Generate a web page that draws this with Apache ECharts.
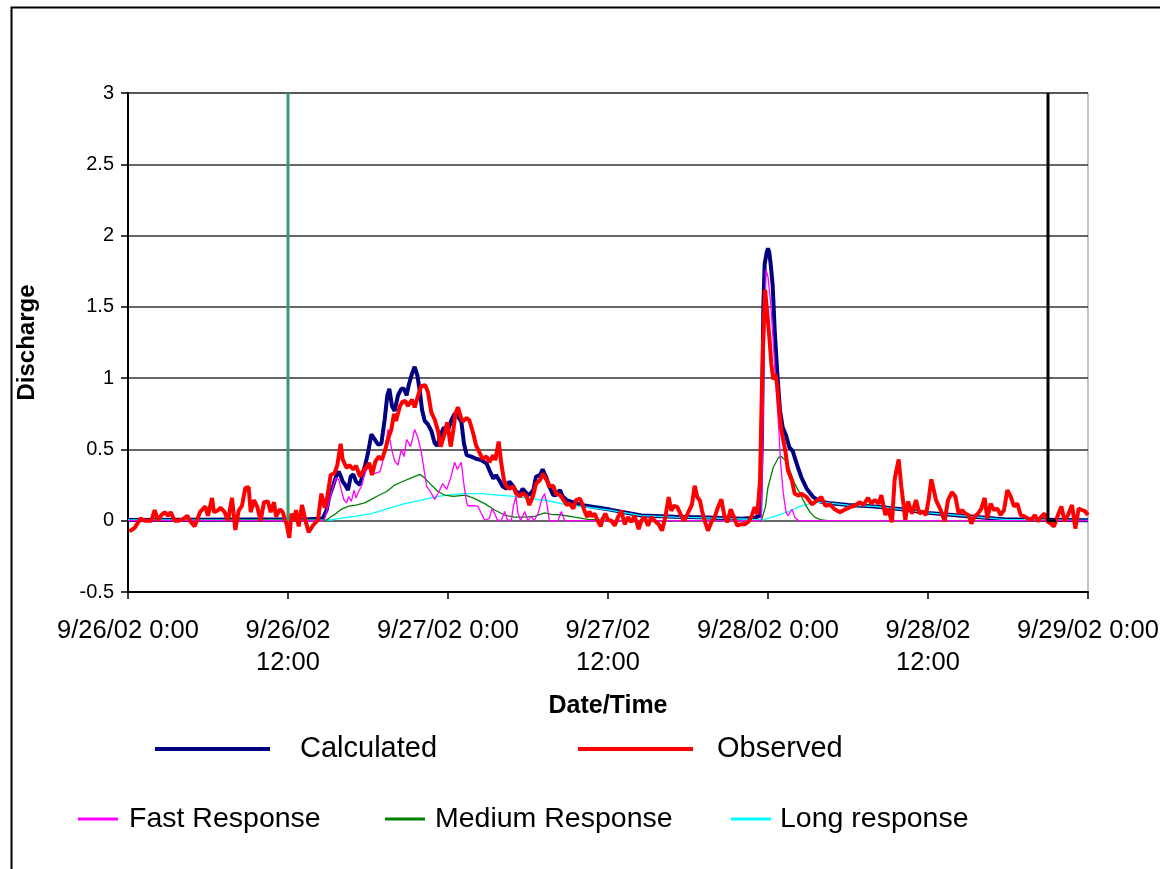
<!DOCTYPE html>
<html><head><meta charset="utf-8">
<script src="https://cdn.jsdelivr.net/npm/echarts@6.0.0/dist/echarts.min.js"></script>
<style>html,body{margin:0;padding:0;background:#fff}#c{width:1160px;height:869px}</style>
</head><body><div id="c"></div><script>
// x values are hours since 9/26/02 0:00
const tickLabels = ['9/26/02 0:00','9/26/02\n12:00','9/27/02 0:00','9/27/02\n12:00','9/28/02 0:00','9/28/02\n12:00','9/29/02 0:00'];
const seriesNames = ['Calculated','Observed','Fast Response','Medium Response','Long response'];
const markerStart = [[12,3],[12,0]];
const markerEnd = [[69,3],[69,0],[69.6,0]];

const observed = [[0.1,-0.075],[0.5,-0.05],[0.95,0.016],[1.25,0],[1.75,0],[2.0,0.075],[2.25,0],[2.5,0.04],[2.75,0.06],[3.0,0.035],[3.2,0.06],[3.5,0],[3.75,0],[4.1,0.01],[4.45,0.035],[4.7,-0.007],[5.0,-0.04],[5.4,0.06],[5.8,0.1],[6.0,0.035],[6.3,0.16],[6.45,0.06],[6.7,0.07],[6.95,0.09],[7.25,0.06],[7.5,0],[7.8,0.16],[8.05,-0.065],[8.3,0.07],[8.55,0.105],[8.8,0.23],[9.05,0.235],[9.2,0.06],[9.45,0.145],[9.7,0.095],[9.95,0],[10.2,0.13],[10.5,0.135],[10.7,0.06],[10.95,0.13],[11.1,0.03],[11.4,0.08],[11.6,0.06],[11.9,-0.025],[12.1,-0.12],
[12.25,0.05],[12.45,0],[12.6,0.075],[12.8,-0.04],[13.05,0.11],[13.3,0.005],[13.55,-0.08],[13.9,-0.03],[14.25,0.005],[14.5,0.19],[14.75,0.09],[14.95,0.17],[15.2,0.32],[15.5,0.335],[15.7,0.39],[15.95,0.54],[16.1,0.43],[16.4,0.37],[16.6,0.39],[16.9,0.36],[17.1,0.385],[17.4,0.31],[17.6,0.345],[17.9,0.38],[18.1,0.405],[18.3,0.32],[18.55,0.415],[18.8,0.45],[19.05,0.43],[19.3,0.5],[19.5,0.575],[19.75,0.64],[19.95,0.75],[20.1,0.70],[20.4,0.805],[20.6,0.835],[20.8,0.84],[21.0,0.805],[21.3,0.85],[21.5,0.795],[21.75,0.875],[22.0,0.945],[22.3,0.95],[22.5,0.9],[22.75,0.76],[23.0,0.71],[23.25,0.63],[23.45,0.52],[23.7,0.595],[23.95,0.69],
[24.2,0.52],[24.4,0.635],[24.55,0.75],[24.75,0.795],[24.95,0.73],[25.1,0.695],[25.4,0.72],[25.6,0.705],[25.9,0.61],[26.1,0.53],[26.4,0.47],[26.6,0.435],[26.9,0.45],[27.1,0.41],[27.4,0.46],[27.55,0.425],[27.8,0.555],[28.0,0.4],[28.2,0.285],[28.4,0.24],[28.6,0.225],[28.9,0.24],[29.1,0.19],[29.4,0.17],[29.6,0.195],[29.9,0.17],[30.1,0.11],[30.4,0.18],[30.6,0.26],[30.9,0.285],[31.1,0.33],[31.4,0.285],[31.6,0.24],[31.9,0.245],[32.1,0.19],[32.4,0.18],[32.6,0.155],[32.9,0.11],[33.1,0.12],[33.4,0.085],[33.6,0.145],[33.9,0.155],[34.1,0.11],[34.25,0.065],[34.45,0.025],[34.6,0.065],[34.8,0.03],[35.0,0.05],[35.2,0.005],[35.45,-0.04],[35.6,0.015],[35.8,0.05],[36.0,0.005],
[36.25,0],[36.5,-0.035],[36.75,0.025],[37.0,0.07],[37.25,-0.025],[37.5,0.025],[37.75,-0.01],[38.0,0.035],[38.3,-0.06],[38.5,0],[38.75,0.025],[39.0,-0.035],[39.25,0.025],[39.5,0],[39.8,-0.025],[40.05,-0.07],[40.3,0.025],[40.55,0.165],[40.75,0.07],[40.95,0.105],[41.2,0.095],[41.45,0.045],[41.7,0],[41.95,0.045],[42.1,0.035],[42.3,0.115],[42.5,0.245],[42.7,0.165],[42.9,0.14],[43.05,0.07],[43.25,0],[43.5,-0.07],[43.75,-0.01],[44.0,0.025],[44.25,0.095],[44.5,0.15],[44.75,0.025],[44.95,-0.01],[45.2,0.08],[45.45,0.025],[45.7,-0.035],[45.95,-0.025],[46.25,-0.025],[46.5,-0.01],[46.75,0.025],[47.0,0.095],[47.2,0.045],[47.4,0.28],[47.55,0.96],[47.65,1.3],[47.78,1.62],[47.92,1.48],[48.1,1.29],[48.25,1.1],[48.4,0.99],[48.55,1.03],[48.7,0.94],[48.85,0.775],[49.0,0.635],[49.3,0.49],[49.5,0.35],[49.8,0.28],[50.0,0.19],[50.3,0.175],[50.5,0.19],[50.9,0.165],[51.3,0.115],[51.65,0.14],[52.0,0.165],[52.3,0.105],[52.65,0.115],[53.0,0.08],[53.4,0.06],[53.8,0.08],[54.15,0.095],[54.5,0.105],[54.9,0.13],[55.15,0.11],[55.5,0.16],[55.75,0.12],[56.0,0.145],[56.3,0.12],[56.5,0.18],[56.8,0.04],[57.0,0.085],[57.3,-0.01],[57.5,0.29],[57.8,0.43],[58.0,0.24],[58.3,0.005],[58.5,0.135],[58.8,0.05],[59.1,0.145],[59.35,0.05],[59.6,0.065],[59.85,0.04],[60.05,0.15],[60.25,0.29],[60.6,0.145],[60.95,0.075],[61.25,-0.005],[61.5,0.145],[61.8,0.2],[62.05,0.17],[62.3,0.05],[62.55,0.075],[62.8,0.05],[63.05,0.04],[63.25,-0.02],[63.5,0.03],[63.75,0.05],[64.0,0.085],[64.25,0.16],[64.45,0.015],[64.7,0.12],[64.95,0.075],[65.2,0.085],[65.45,0.04],[65.7,0.075],[65.95,0.215],[66.2,0.17],[66.45,0.1],[66.7,0.12],[66.95,0.04],[67.25,0.03],[67.5,0.015],[67.75,0.005],[68.0,0.04],[68.25,-0.005],[68.5,0.03],[68.75,0.05],[68.95,-0.005],[69.2,-0.02],[69.45,-0.04],[69.75,0.04],[70.0,0.1],[70.25,-0.005],[70.5,0.04],[70.8,0.11],[71.05,-0.055],[71.3,0.085],[71.55,0.075],[71.8,0.065],[72.0,0.04]];

const calculated = [[0,0.005],[13.5,0.01],[14.6,0.015],[14.9,0.075],[15.1,0.17],[15.4,0.25],[15.6,0.31],[15.8,0.345],[15.95,0.315],[16.1,0.275],[16.3,0.25],[16.5,0.215],[16.7,0.31],[16.9,0.325],[17.1,0.275],[17.4,0.25],[17.6,0.325],[17.8,0.395],[18.0,0.475],[18.25,0.605],[18.5,0.57],[18.75,0.535],[19.0,0.54],[19.25,0.71],[19.45,0.88],[19.6,0.925],[19.8,0.805],[20.0,0.77],[20.25,0.88],[20.5,0.925],[20.7,0.925],[20.9,0.88],[21.05,0.95],[21.3,1.03],[21.5,1.08],[21.7,1.02],[21.9,0.9],[22.05,0.78],[22.25,0.7],[22.5,0.675],[22.75,0.63],[23.0,0.545],[23.2,0.525],[23.45,0.605],[23.7,0.655],[23.95,0.62],[24.25,0.705],[24.5,0.75],[24.75,0.73],[25.0,0.695],[25.2,0.54],[25.4,0.46],[25.75,0.45],[26.1,0.435],[26.5,0.425],[26.9,0.4],[27.1,0.355],[27.4,0.295],[27.6,0.32],[27.9,0.275],[28.1,0.24],[28.4,0.225],[28.6,0.275],[28.9,0.24],[29.1,0.205],[29.4,0.19],[29.6,0.225],[29.9,0.19],[30.1,0.18],[30.4,0.215],[30.6,0.31],[30.9,0.32],[31.1,0.36],[31.4,0.295],[31.6,0.24],[31.9,0.18],[32.1,0.18],[32.4,0.215],[32.6,0.17],[32.9,0.145],[34.0,0.11],[36.15,0.078],[38.5,0.037],[41.0,0.027],[43.5,0.022],[46.0,0.014],[47.0,0.02],[47.4,0.035],[47.55,0.6],[47.65,1.5],[47.75,1.8],[47.9,1.88],[48.0,1.91],[48.1,1.88],[48.2,1.8],[48.35,1.65],[48.5,1.34],[48.7,1.03],[48.9,0.775],[49.1,0.655],[49.35,0.6],[49.6,0.515],[49.85,0.49],[50.15,0.4],[50.5,0.305],[50.9,0.225],[51.4,0.165],[51.9,0.135],[52.5,0.125],[54.0,0.11],[56.0,0.1],[58.0,0.08],[60.0,0.055],[62.5,0.035],[65.0,0.015],[65.7,0.01],[65.8,0.003],[72,0.003]];

const fastResponse = [[0,0],[14.6,0],[14.75,0.015],[15.0,0.1],[15.25,0.195],[15.6,0.3],[15.8,0.29],[16.0,0.215],[16.2,0.145],[16.4,0.125],[16.55,0.17],[16.75,0.135],[16.95,0.215],[17.1,0.16],[17.3,0.205],[17.5,0.24],[17.7,0.31],[17.9,0.36],[18.1,0.37],[18.5,0.33],[18.9,0.345],[19.2,0.45],[19.5,0.64],[19.8,0.49],[20.0,0.42],[20.25,0.39],[20.5,0.5],[20.7,0.45],[20.9,0.57],[21.2,0.52],[21.5,0.64],[21.75,0.58],[22.0,0.48],[22.4,0.24],[22.7,0.2],[23.0,0.15],[23.3,0.2],[23.6,0.26],[23.9,0.22],[24.2,0.3],[24.5,0.41],[24.7,0.36],[25.0,0.41],[25.2,0.25],[25.4,0.125],[25.5,0.105],[26.0,0.105],[26.25,0.1],[26.5,0.05],[26.75,0.005],[27.1,0.015],[27.3,0.085],[27.5,0.05],[27.7,0.005],[28.0,0],[28.25,0.065],[28.45,0.005],[28.75,0],[28.9,0.1],[29.1,0.17],[29.25,0.05],[29.45,0],[29.75,0.065],[30.0,0],[30.25,0.03],[30.45,0],[30.75,0.05],[31.05,0.155],[31.25,0.19],[31.45,0.1],[31.6,0],[32.25,0],[32.5,0.065],[32.75,0],[47.5,0],[47.6,0.5],[47.7,1.1],[47.85,1.76],[48.0,1.71],[48.2,1.525],[48.4,1.245],[48.6,0.94],[48.8,0.655],[48.95,0.4],[49.15,0.19],[49.35,0.06],[49.5,0.035],[49.8,0.08],[50.0,0.025],[50.3,0],[72,0]];

const mediumResponse = [[0,0],[14.9,0.005],[15.25,0.03],[15.6,0.05],[16.0,0.08],[16.5,0.1],[17.1,0.11],[17.75,0.125],[18.25,0.15],[18.75,0.175],[19.4,0.205],[20.0,0.25],[20.6,0.275],[21.25,0.3],[21.9,0.325],[22.25,0.3],[22.75,0.25],[23.25,0.205],[23.75,0.18],[24.4,0.17],[25.3,0.18],[26.0,0.155],[26.75,0.12],[27.5,0.075],[28.25,0.04],[29.0,0.025],[29.75,0.025],[30.5,0.03],[31.25,0.055],[31.75,0.045],[32.5,0.04],[33.5,0.025],[34.5,0.01],[35.5,0.005],[36.5,0],[47.5,0],[47.8,0.095],[48.0,0.235],[48.4,0.375],[48.8,0.445],[49.0,0.45],[49.35,0.42],[49.65,0.35],[50.0,0.26],[50.4,0.19],[50.8,0.115],[51.15,0.06],[51.5,0.025],[52.0,0.005],[52.5,0],[72,0]];

const longResponse = [[0,0.005],[15.25,0.005],[15.75,0.015],[17.0,0.03],[18.25,0.05],[19.5,0.085],[20.75,0.12],[22.0,0.145],[23.25,0.17],[24.0,0.18],[25.25,0.19],[26.5,0.19],[27.75,0.18],[29.0,0.17],[30.25,0.155],[31.5,0.14],[32.75,0.115],[34.0,0.1],[36.15,0.075],[38.5,0.035],[41.0,0.025],[43.5,0.02],[46.0,0.012],[47.6,0.005],[48.65,0.035],[49.65,0.07],[50.4,0.1],[50.9,0.115],[51.65,0.13],[52.5,0.125],[54.0,0.11],[56.0,0.1],[58.0,0.08],[60.0,0.055],[62.5,0.035],[65.0,0.015],[65.7,0.01],[65.8,0.003],[72,0.003]];

const FONT = '"Liberation Sans", Arial, sans-serif';
const chart = echarts.init(document.getElementById('c'), null, {renderer:'canvas'});

function lineSeries(name, data, color, width, z) {
  return {name, type:'line', data, showSymbol:false, symbol:'none', smooth:false, z,
    color, lineStyle:{color, width}, emphasis:{disabled:true}, animation:false};
}
function legendItem(name, left, top, w, h, size, pad) {
  return {data:[{name, icon:'rect'}], left, top, itemWidth:w, itemHeight:h, padding:0,
    selectedMode:false, textStyle:{fontFamily:FONT, fontSize:size, color:'#000', lineHeight:32, padding:[0,0,0,pad]}};
}

chart.setOption({
  backgroundColor:'#fff',
  animation:false,
  graphic:[{type:'rect', left:9, top:5, shape:{width:1200, height:900}, style:{fill:'none', stroke:'#000', lineWidth:2}, silent:true}],
  grid:{left:128, right:72, top:93, bottom:277, show:true, borderColor:'#888', borderWidth:1, backgroundColor:'transparent', containLabel:false, outerBoundsMode:'none'},
  legend:[
    legendItem(seriesNames[0], 155, 733, 115, 4, 29, 25),
    legendItem(seriesNames[1], 578, 733, 115, 4, 29, 19),
    legendItem(seriesNames[2], 78, 803, 40, 3, 28.5, 6),
    legendItem(seriesNames[3], 385, 803, 40, 3, 28.5, 5),
    legendItem(seriesNames[4], 731, 803, 40, 3, 28.5, 4)
  ],
  xAxis:{type:'value', min:0, max:72, interval:12,
    name:'Date/Time', nameLocation:'middle', nameGap:102,
    nameTextStyle:{fontFamily:FONT, fontSize:25, fontWeight:'bold', color:'#000'},
    axisLine:{onZero:false, lineStyle:{color:'#000', width:2}},
    axisTick:{show:true, length:7, lineStyle:{color:'#000', width:1.5}},
    splitLine:{show:false},
    axisLabel:{fontFamily:FONT, fontSize:25.5, color:'#000', margin:23, lineHeight:32,
      formatter:(v)=>tickLabels[Math.round(v/12)]}
  },
  yAxis:{type:'value', min:-0.5, max:3, interval:0.5,
    name:'Discharge', nameLocation:'middle', nameGap:89, nameRotate:90,
    nameTextStyle:{fontFamily:FONT, fontSize:24, fontWeight:'bold', color:'#000'},
    axisLine:{show:true, lineStyle:{color:'#000', width:2}},
    axisTick:{show:true, length:7, lineStyle:{color:'#000', width:1.5}},
    splitLine:{show:true, lineStyle:{color:'#333', width:1.5}},
    axisLabel:{fontFamily:FONT, fontSize:20, color:'#000', margin:14}
  },
  series:[
    lineSeries(seriesNames[0], calculated, '#000080', 4, 2),
    lineSeries(seriesNames[4], longResponse, '#00ffff', 1.3, 3),
    lineSeries(seriesNames[3], mediumResponse, '#008000', 1.3, 3),
    lineSeries(seriesNames[2], fastResponse, '#ff00ff', 1.3, 3),
    lineSeries(seriesNames[1], observed, '#ff0000', 4, 4),
    {type:'line', data:markerStart, showSymbol:false, symbol:'none', z:5, lineStyle:{color:'#3a9a6a', width:3}, silent:true},
    {type:'line', data:markerEnd, showSymbol:false, symbol:'none', z:5, lineStyle:{color:'#000', width:3}, silent:true}
  ]
});
</script></body></html>
